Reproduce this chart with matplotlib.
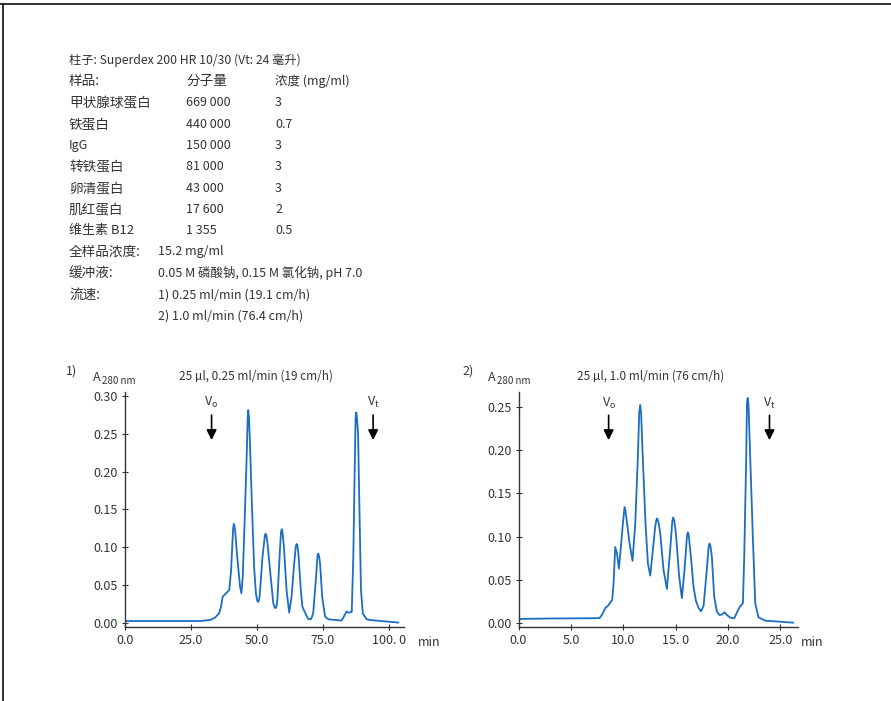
import matplotlib
matplotlib.use("Agg")
import matplotlib.pyplot as plt
from matplotlib.lines import Line2D

plt.rcParams['font.family'] = ['Noto Sans CJK SC', 'DejaVu Sans']

W, H = 891, 701
TXT = '#333333'
BLUE = '#1b6ec2'

# sample table
col_names = ['样品:', '分子量', '浓度 (mg/ml)']
samples = ['甲状腺球蛋白', '铁蛋白', 'IgG', '转铁蛋白', '卵清蛋白', '肌红蛋白', '维生素 B12']
mol_weight = ['669 000', '440 000', '150 000', '81 000', '43 000', '17 600', '1 355']
conc = ['3', '0.7', '3', '3', '3', '2', '0.5']

# chromatogram 1: 0.25 ml/min
t1 = [0, 10, 20, 28.4, 32.2, 34.1, 35.6, 36.4, 37.0, 38.3,
      39.5, 40.2, 40.8, 40.95, 41.2, 41.45, 41.7, 42.5, 43.6, 44.1,
      44.6, 45.3, 46.1, 46.45, 46.7, 46.95, 47.3, 48.1, 48.9, 49.6,
      50.0, 50.4, 50.8, 51.1, 52.1, 53.0, 53.3, 53.6, 54.0, 55.2,
      56.2, 56.7, 57.1, 57.5, 57.8, 58.7, 59.1, 59.4, 59.7, 60.2,
      61.2, 62.2, 63.1, 64.1, 64.7, 65.0, 65.3, 65.7, 66.6, 67.2,
      68.2, 69.4, 70.5, 71.3, 72.3, 72.9, 73.2, 73.5, 73.9, 74.7,
      75.8, 77.0, 82.0, 82.9, 83.9, 84.8, 85.9, 86.5, 87.0, 87.35,
      87.6, 87.85, 88.3, 88.8, 89.4, 90.1, 91.5, 92.8, 103.5]
a1 = [0.003, 0.003, 0.003, 0.003, 0.0043, 0.0074, 0.013, 0.022, 0.035, 0.0395,
      0.044, 0.070, 0.114, 0.124, 0.131, 0.128, 0.123, 0.088, 0.048, 0.0395,
      0.061, 0.132, 0.22, 0.268, 0.281, 0.272, 0.242, 0.154, 0.075, 0.0395,
      0.031, 0.028, 0.031, 0.0395, 0.088, 0.116, 0.118, 0.115, 0.105, 0.061,
      0.026, 0.021, 0.020, 0.024, 0.035, 0.097, 0.120, 0.124, 0.119, 0.101,
      0.044, 0.014, 0.035, 0.079, 0.101, 0.1045, 0.103, 0.092, 0.044, 0.022,
      0.014, 0.0057, 0.0055, 0.013, 0.057, 0.088, 0.092, 0.089, 0.079, 0.035,
      0.0087, 0.0053, 0.0035, 0.0087, 0.0153, 0.014, 0.015, 0.088, 0.198, 0.270,
      0.278, 0.272, 0.250, 0.154, 0.044, 0.013, 0.0055, 0.0043, 0.001]

# chromatogram 2: 1.0 ml/min
t2 = [0, 3, 6.84, 7.73, 7.96, 8.27, 8.59, 8.94, 9.07, 9.23,
      9.39, 9.58, 9.77, 9.96, 10.12, 10.2, 10.28, 10.6, 10.88, 11.14,
      11.39, 11.52, 11.61, 11.7, 11.83, 12.12, 12.35, 12.57, 12.79, 13.04,
      13.15, 13.23, 13.35, 13.52, 13.84, 14.16, 14.47, 14.68, 14.76, 14.86,
      15.02, 15.33, 15.59, 15.84, 16.08, 16.16, 16.25, 16.45, 16.7, 16.93,
      17.18, 17.41, 17.66, 17.91, 18.15, 18.23, 18.32, 18.45, 18.67, 18.93,
      19.18, 19.41, 19.66, 19.89, 20.2, 20.59, 20.84, 21.09, 21.41, 21.54,
      21.73, 21.8, 21.87, 21.95, 22.11, 22.37, 22.59, 22.9, 23.54, 26.2]
a2 = [0.005, 0.0055, 0.0058, 0.006, 0.0096, 0.0173, 0.021, 0.027, 0.046, 0.088,
      0.081, 0.063, 0.088, 0.115, 0.134, 0.131, 0.123, 0.092, 0.072, 0.115,
      0.192, 0.243, 0.252, 0.243, 0.200, 0.115, 0.069, 0.055, 0.081, 0.111,
      0.119, 0.121, 0.117, 0.104, 0.0615, 0.0396, 0.0846, 0.118, 0.122, 0.119,
      0.104, 0.054, 0.029, 0.0615, 0.101, 0.105, 0.101, 0.077, 0.042, 0.026,
      0.018, 0.0138, 0.020, 0.054, 0.089, 0.092, 0.089, 0.077, 0.031, 0.0134,
      0.0096, 0.010, 0.0127, 0.0096, 0.0065, 0.0058, 0.0123, 0.0185, 0.023, 0.077,
      0.192, 0.254, 0.26, 0.252, 0.192, 0.096, 0.023, 0.0069, 0.003, 0.0007]

xt1 = [0, 25, 50, 75, 100]
xl1 = ['0.0', '25.0', '50.0', '75.0', '100. 0']
yt1 = [0, 0.05, 0.10, 0.15, 0.20, 0.25, 0.30]
xt2 = [0, 5, 10, 15, 20, 25]
xl2 = ['0.0', '5.0', '10.0', '15. 0', '20.0', '25.0']
yt2 = [0, 0.05, 0.10, 0.15, 0.20, 0.25]

fig = plt.figure(figsize=(W / 100, H / 100), dpi=100)


def ftext(x, y, s, **kw):
    kw.setdefault('fontsize', 9)
    kw.setdefault('color', TXT)
    kw.setdefault('va', 'center')
    fig.text(x / W, 1 - y / H, s, **kw)


def name_size(s):
    # chinese glyphs are set a little larger than latin ones
    if s.isascii():
        return 9
    if any(c.isascii() and c.isalnum() for c in s):
        return 9.4
    return 9.8


# frame lines at top and left
fig.add_artist(Line2D([0, 1], [1 - 4 / H, 1 - 4 / H], color='#111111', lw=1.2))
fig.add_artist(Line2D([2.5 / W, 2.5 / W], [0, 1 - 4 / H], color='#111111', lw=1.2))

# header block
ftext(69, 60, '柱子: Superdex 200 HR 10/30 (Vt: 24 毫升)', fontsize=8.8)
ftext(69, 81, col_names[0], fontsize=name_size(col_names[0]))
ftext(186, 81, col_names[1], fontsize=name_size(col_names[1]))
ftext(275, 81, col_names[2])
for i in range(len(samples)):
    y = 103 + i * 21.3
    ftext(69, y, samples[i], fontsize=name_size(samples[i]))
    ftext(186, y, mol_weight[i])
    ftext(275, y, conc[i])
ftext(69, 252, '全样品浓度:', fontsize=9.8)
ftext(158, 252, '15.2 mg/ml')
ftext(69, 273, '缓冲液:', fontsize=9.8)
ftext(158, 273, '0.05 M 磷酸钠, 0.15 M 氯化钠, pH 7.0')
ftext(69, 295, '流速:', fontsize=9.8)
ftext(158, 295, '1) 0.25 ml/min (19.1 cm/h)')
ftext(158, 316, '2) 1.0 ml/min (76.4 cm/h)')


def panel(left, right, xmax, ymin, ymax, t, a, xt, xl, yt, vo, vt, arrow_top, arrow_tip):
    ax = fig.add_axes([left / W, 1 - 627 / H, (right - left) / W, 235 / H])
    ax.plot(t, a, color=BLUE, lw=1.3, solid_joinstyle='round')
    ax.set_xlim(0, xmax)
    ax.set_ylim(ymin, ymax)
    for s in ['top', 'right']:
        ax.spines[s].set_visible(False)
    for s in ['left', 'bottom']:
        ax.spines[s].set_color('#333333')
        ax.spines[s].set_linewidth(1.0)
    ax.set_xticks(xt)
    ax.set_xticklabels(xl)
    ax.set_yticks(yt)
    ax.set_yticklabels(['%.2f' % v for v in yt])
    ax.tick_params(direction='inout', length=4, width=0.8, colors='#333333',
                   labelsize=9, labelcolor=TXT, pad=3)
    for t0, lab in [(vo, 'o'), (vt, 't')]:
        ax.annotate('', xy=(t0, arrow_tip), xytext=(t0, arrow_top),
                    arrowprops=dict(arrowstyle='-|>', color='black', lw=1.2,
                                    mutation_scale=15, shrinkA=0, shrinkB=0))
        ax.text(t0, arrow_top + (ymax - ymin) * 0.02, 'V$_{\\mathregular{%s}}$' % lab,
                ha='center', va='bottom', fontsize=9, color=TXT)
    return ax


panel(125, 404, 105.7, -0.0049, 0.3049, t1, a1, xt1, xl1, yt1,
      32.8, 94.0, 0.2745, 0.2415)
panel(518.5, 798, 26.67, -0.0043, 0.2669, t2, a2, xt2, xl2, yt2,
      8.6, 23.95, 0.240, 0.2113)

# panel captions
ftext(66, 371, '1)')
ftext(93, 378, 'A')
ftext(102, 381, '280 nm', fontsize=7)
ftext(256, 376, '25 µl, 0.25 ml/min (19 cm/h)', ha='center', fontsize=8.5)
ftext(418, 642, 'min')

ftext(462, 371, '2)')
ftext(488, 378, 'A')
ftext(497, 381, '280 nm', fontsize=7)
ftext(651, 376, '25 µl, 1.0 ml/min (76 cm/h)', ha='center', fontsize=8.5)
ftext(801, 642, 'min')

fig.savefig('out.png', dpi=100, facecolor='white')
